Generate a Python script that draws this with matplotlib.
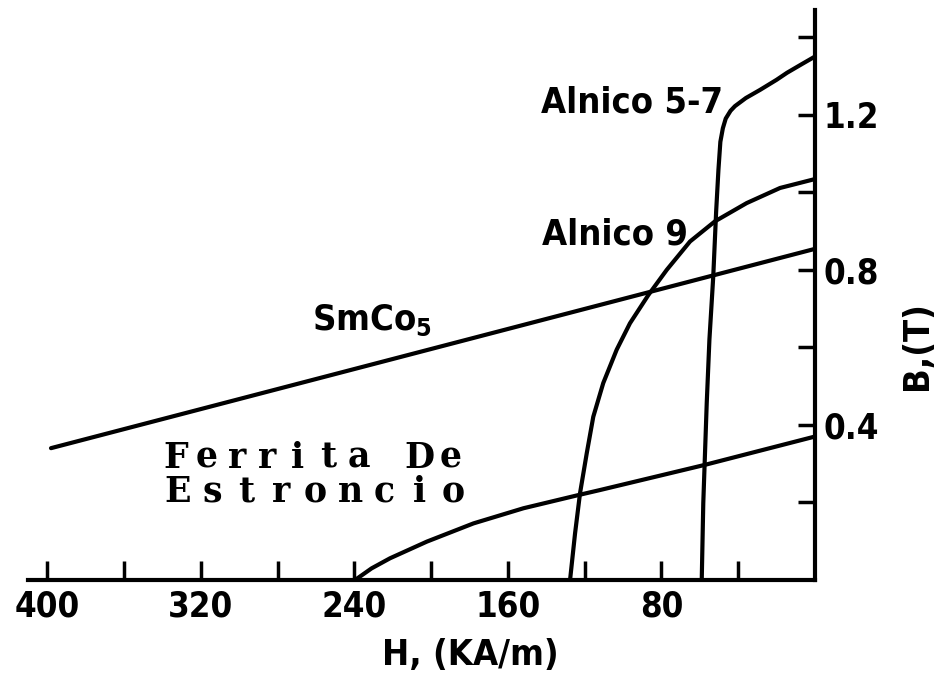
import matplotlib.pyplot as plt
from matplotlib.ticker import FixedLocator

# demagnetization curves, H in kA/m (plotted reversed), B in T
h_alnico57 = [59, 58.2, 56.4, 55, 53, 51.5, 50.3, 49.3, 48, 46.5, 44, 41.7, 36, 28.6, 20, 14.6, 7, 0]
b_alnico57 = [0, 0.198, 0.456, 0.62, 0.783, 0.95, 1.058, 1.13, 1.165, 1.19, 1.21, 1.222, 1.243, 1.264, 1.29, 1.308, 1.33, 1.35]

h_alnico9 = [127.6, 125, 122.4, 118.9, 115.5, 110.3, 103.3, 96.4, 86.8, 77.2, 65.1, 52.1, 35.6, 18.2, 0]
b_alnico9 = [0, 0.12, 0.224, 0.327, 0.421, 0.508, 0.594, 0.662, 0.735, 0.80, 0.873, 0.925, 0.972, 1.011, 1.034]

h_smco5 = [398, 0]
b_smco5 = [0.34, 0.854]

h_ferrita = [239.6, 231, 221.4, 202.2, 177.9, 151.9, 123.3, 112, 57.3, 0]
b_ferrita = [0, 0.03, 0.056, 0.099, 0.146, 0.185, 0.219, 0.232, 0.297, 0.37]

x_major = [400, 320, 240, 160, 80]
x_minor = [360, 280, 200, 120, 40]
y_major = [0.4, 0.8, 1.2]
y_minor = [0.2, 0.6, 1.0, 1.4]

plt.rcParams['font.family'] = ['DejaVu Sans']
plt.rcParams['font.stretch'] = 'condensed'
plt.rcParams['font.weight'] = 'bold'
plt.rcParams['axes.labelweight'] = 'bold'

fig = plt.figure(figsize=(9.48, 6.79), dpi=100)
ax = fig.add_axes([0.0295, 0.1458, 0.8302, 0.8395])

lw = 3
for h, b in [(h_alnico57, b_alnico57), (h_alnico9, b_alnico9),
             (h_smco5, b_smco5), (h_ferrita, b_ferrita)]:
    ax.plot(h, b, color='black', lw=lw, solid_capstyle='round', solid_joinstyle='round')

ax.set_xlim(410, 0)
ax.set_ylim(0, 1.47)

for s in ['top', 'left']:
    ax.spines[s].set_visible(False)
for s in ['bottom', 'right']:
    ax.spines[s].set_linewidth(3)

ax.xaxis.set_major_locator(FixedLocator(x_major))
ax.xaxis.set_minor_locator(FixedLocator(x_minor))
ax.set_xticklabels([str(v) for v in x_major])
ax.tick_params(axis='x', which='both', direction='in', length=14, width=2.5, pad=7, labelsize=25)

ax.yaxis.tick_right()
ax.yaxis.set_major_locator(FixedLocator(y_major))
ax.yaxis.set_minor_locator(FixedLocator(y_minor))
ax.set_yticklabels([str(v) for v in y_major])
ax.tick_params(axis='y', which='both', direction='in', length=12, width=2.5, pad=6, labelsize=25)

ax.set_xlabel('H, (KA/m)', fontsize=26, va='center')
ax.xaxis.set_label_coords(0.5616, -0.1316)
ax.yaxis.set_label_position('right')
ax.set_ylabel('B,(T)', fontsize=26, rotation=90, va='center')
ax.yaxis.set_label_coords(1.13, 0.412)

# curve labels
ax.text(48, 1.205, 'Alnico 5-7', fontsize=26, ha='right', va='baseline')
ax.text(66, 0.865, 'Alnico 9', fontsize=26, ha='right', va='baseline')
ax.text(262, 0.645, 'SmCo$_5$', fontsize=26, ha='left', va='baseline')

# typewriter style label, letters spread out
def spaced(x, y, s, pitch_px):
    for i, ch in enumerate(s):
        ax.annotate(ch, (x, y), xytext=((i + 0.5) * pitch_px * 0.72, 0),
                    textcoords='offset points', ha='center', va='baseline',
                    fontsize=25, fontweight='bold', family='DejaVu Serif',
                    fontstretch='normal')

spaced(341, 0.289, 'Ferrita De', 30.5)
spaced(341, 0.201, 'Estroncio', 34.5)

fig.savefig('out.png', dpi=100)
